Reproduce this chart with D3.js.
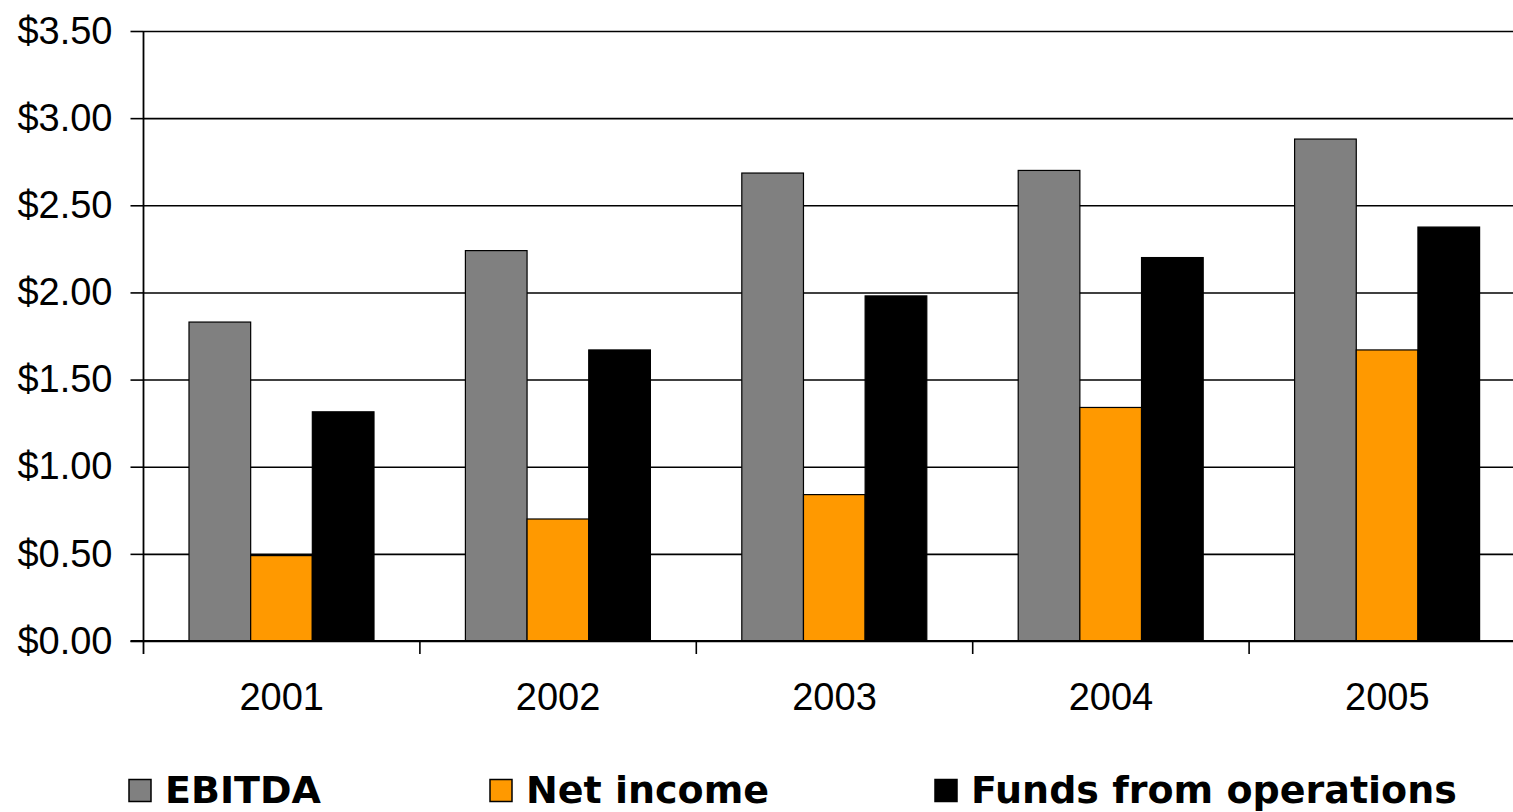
<!DOCTYPE html>
<html>
<head>
<meta charset="utf-8">
<script src="https://cdn.jsdelivr.net/npm/d3@7"></script>
<style>
  html, body { margin: 0; padding: 0; background: #fff; }
  svg { display: block; }
</style>
</head>
<body>
<svg id="chart" width="1513" height="812"></svg>
<script>
const years = ["2001", "2002", "2003", "2004", "2005"];
const seriesNames = ["EBITDA", "Net income", "Funds from operations"];
const ebitda = [1.83, 2.24, 2.685, 2.70, 2.88];
const netIncome = [0.49, 0.70, 0.84, 1.34, 1.67];
const ffo = [1.315, 1.67, 1.98, 2.20, 2.375];
const seriesColors = ["#808080", "#FF9900", "#000000"];
const yTicks = [0, 0.5, 1.0, 1.5, 2.0, 2.5, 3.0, 3.5];

const seriesValues = [ebitda, netIncome, ffo];
const svg = d3.select("#chart");

const plotLeft = 143.5, plotTop = 31, plotBottom = 641, bandW = 276.4;
const plotRight = plotLeft + bandW * years.length;

const x = d3.scaleBand().domain(years).range([plotLeft, plotRight]).paddingInner(0).paddingOuter(0);
const inner = d3.scaleBand().domain(seriesNames).range([45.5, 230.5]).padding(0);
const y = d3.scaleLinear().domain([0, 3.5]).range([plotBottom, plotTop]);

// gridlines
svg.append("g")
  .attr("transform", `translate(${plotLeft},0)`)
  .call(d3.axisLeft(y).tickValues(yTicks).tickSize(-(plotRight - plotLeft)).tickFormat(""))
  .call(g => g.select(".domain").remove())
  .call(g => g.selectAll("line").attr("stroke", "#000").attr("stroke-width", 1.6));

// bars
years.forEach((yr, i) => {
  const grp = svg.append("g").attr("transform", `translate(${x(yr)},0)`);
  seriesNames.forEach((s, j) => {
    const v = seriesValues[j][i];
    grp.append("rect")
      .attr("x", inner(s))
      .attr("y", y(v))
      .attr("width", inner.bandwidth())
      .attr("height", y(0) - y(v))
      .attr("fill", seriesColors[j])
      .attr("stroke", "#000")
      .attr("stroke-width", 1.2);
  });
});

// y axis
svg.append("g")
  .attr("transform", `translate(${plotLeft},0)`)
  .call(d3.axisLeft(y).tickValues(yTicks).tickSize(13).tickPadding(18).tickFormat(d3.format("$.2f")))
  .call(g => g.select(".domain").remove())
  .call(g => g.selectAll("line").attr("stroke", "#000").attr("stroke-width", 1.6))
  .call(g => g.selectAll("text").attr("fill", "#000")
      .style("font-family", "'Liberation Sans', Arial, sans-serif").style("font-size", "38px"));

svg.append("line")
  .attr("x1", plotLeft).attr("x2", plotLeft).attr("y1", plotTop).attr("y2", plotBottom + 13)
  .attr("stroke", "#000").attr("stroke-width", 1.8);

// x axis
svg.append("line")
  .attr("x1", plotLeft - 13).attr("x2", plotRight).attr("y1", plotBottom).attr("y2", plotBottom)
  .attr("stroke", "#000").attr("stroke-width", 1.8);

svg.append("g").selectAll("line")
  .data(years.slice(1))
  .join("line")
  .attr("x1", d => x(d)).attr("x2", d => x(d))
  .attr("y1", plotBottom).attr("y2", plotBottom + 13)
  .attr("stroke", "#000").attr("stroke-width", 1.6);

svg.append("g")
  .attr("transform", `translate(0,${plotBottom})`)
  .call(d3.axisBottom(x).tickSize(0).tickFormat(d => d))
  .call(g => g.select(".domain").remove())
  .call(g => g.selectAll("text").attr("y", 69).attr("dy", 0).attr("fill", "#000")
      .style("font-family", "'Liberation Sans', Arial, sans-serif").style("font-size", "38px"));

// legend
const legendX = [129, 490, 935];
const leg = svg.append("g");
seriesNames.forEach((s, j) => {
  leg.append("rect")
    .attr("x", legendX[j]).attr("y", 779.5)
    .attr("width", 22).attr("height", 22)
    .attr("fill", seriesColors[j]).attr("stroke", "#000").attr("stroke-width", 1.5);
  leg.append("text")
    .attr("x", legendX[j] + 36).attr("y", 803)
    .attr("fill", "#000")
    .style("font-family", "'DejaVu Sans', Verdana, sans-serif")
    .style("font-weight", "bold")
    .style("font-size", "38px")
    .text(s);
});
</script>
</body>
</html>
